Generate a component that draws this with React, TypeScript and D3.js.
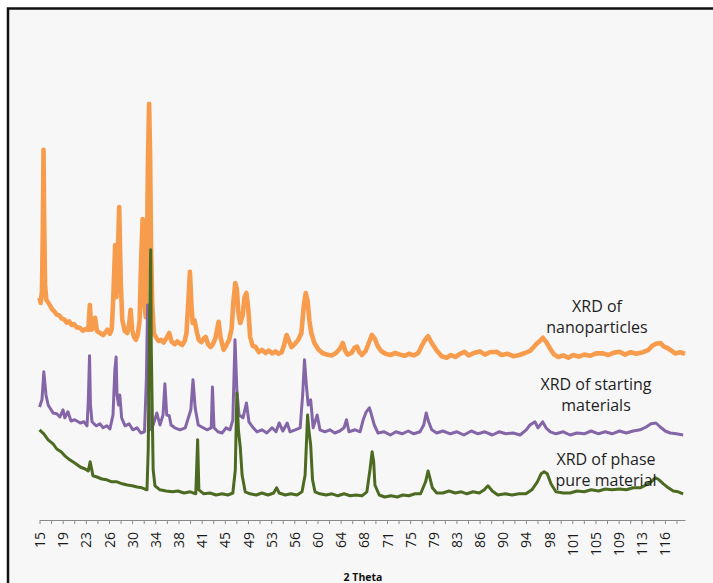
import React, { useRef, useEffect } from 'react';
import * as d3 from 'd3';

// 2 Theta (deg) vs intensity (a.u., traces already offset as in the figure)
const nanoparticles = [
  [15.0, 51.8], [15.2, 50.5], [15.4, 53.5], [15.55, 70], [15.65, 88.8], [15.75, 72], [15.9, 55], [16.1, 51.3],
  [16.6, 50.2], [17.0, 49.0], [17.4, 48.4], [17.8, 47.6], [18.2, 47.4], [18.6, 46.6], [19.0, 46.4], [19.4, 45.6],
  [19.8, 45.9], [20.2, 45.0], [20.6, 45.2], [21.0, 44.4], [21.5, 44.3], [22.0, 43.6], [22.5, 44.0], [22.9, 43.8],
  [23.15, 50.0], [23.4, 43.8], [23.8, 44.5], [24.0, 46.8], [24.3, 43.5], [24.8, 43.0], [25.3, 42.5], [25.7, 43.2],
  [26.0, 43.8], [26.4, 42.8], [26.7, 44.0], [26.95, 52], [27.25, 65], [27.45, 52], [27.65, 61], [27.9, 74.5],
  [28.15, 56], [28.4, 46.3], [28.8, 43.5], [29.2, 43.0], [29.5, 45.0], [29.75, 48.8], [30.0, 43.8], [30.3, 42.0],
  [30.6, 41.3], [30.9, 42.5], [31.2, 46], [31.45, 61], [31.7, 71.5], [31.9, 51], [32.2, 47], [32.4, 62],
  [32.55, 85], [32.74, 100.3], [32.9, 88], [33.05, 65], [33.25, 50], [33.5, 43], [33.9, 41.8], [34.3, 41.0],
  [34.7, 41.3], [35.1, 40.6], [35.5, 41.6], [36.0, 43.0], [36.4, 40.8], [36.9, 40.2], [37.3, 40.9], [37.7, 40.4],
  [38.1, 40.0], [38.5, 41.0], [38.8, 43], [39.1, 51], [39.35, 58.3], [39.6, 50], [39.8, 45.5], [40.1, 46.2],
  [40.5, 43], [40.8, 41.3], [41.2, 40.7], [41.6, 41.6], [41.9, 42.0], [42.3, 40.2], [42.7, 39.5], [43.1, 40.3],
  [43.5, 41.8], [44.0, 45.8], [44.3, 42], [44.8, 38.8], [45.2, 39.8], [45.7, 41.3], [46.1, 44], [46.4, 51],
  [46.7, 55.5], [46.95, 54], [47.2, 48], [47.5, 45.5], [47.9, 47.5], [48.2, 52], [48.5, 53], [48.8, 49],
  [49.1, 42], [49.5, 39.8], [50.0, 39.5], [50.5, 38.2], [51.0, 38.8], [51.6, 38.0], [52.1, 38.6], [52.7, 37.9],
  [53.2, 38.4], [53.7, 37.8], [54.2, 38.2], [54.6, 40], [55.0, 42.5], [55.4, 41], [55.8, 39.5], [56.3, 40.2],
  [56.9, 41.3], [57.4, 43], [57.8, 50], [58.1, 53], [58.4, 51], [58.7, 46], [59.0, 43], [59.5, 40.5],
  [60.2, 38.8], [60.8, 38.0], [61.5, 37.6], [62.3, 37.4], [63.0, 38.0], [63.6, 39], [64.1, 40.5], [64.5, 38.5],
  [64.9, 37.6], [65.5, 38.0], [66.0, 39.3], [66.4, 39.6], [66.8, 38.2], [67.2, 37.5], [67.8, 38.5], [68.3, 40.5],
  [68.8, 42.5], [69.3, 41.5], [69.8, 39.6], [70.3, 38.5], [71.0, 37.8], [71.8, 37.5], [72.6, 38.0], [73.4, 37.6],
  [74.1, 37.3], [74.8, 37.8], [75.6, 37.4], [76.3, 38.0], [76.8, 39.5], [77.3, 41.0], [77.9, 42.2], [78.5, 40.5],
  [79.3, 38.6], [80.1, 37.2], [80.9, 36.8], [81.6, 37.5], [82.3, 37.0], [83.1, 37.8], [83.8, 38.3], [84.5, 37.4],
  [85.3, 38.0], [86.3, 38.4], [87.1, 37.6], [87.9, 38.2], [89.0, 38.3], [89.8, 37.5], [90.8, 37.8], [91.7, 37.2],
  [92.7, 37.5], [93.6, 38.0], [94.5, 38.6], [95.4, 40.2], [96.0, 41.0], [96.5, 41.8], [97.1, 40.6], [97.7, 39.0],
  [98.3, 37.6], [99.0, 37.0], [99.8, 37.4], [100.6, 36.8], [101.4, 37.5], [102.3, 37.1], [103.2, 37.6], [104.1, 37.3],
  [105.1, 37.9], [106.2, 37.9], [107.1, 37.5], [108.0, 38.1], [108.9, 38.3], [109.8, 37.6], [110.7, 38.2], [111.6, 37.8],
  [112.7, 38.2], [113.6, 38.8], [114.2, 39.8], [114.8, 40.3], [115.5, 40.5], [116.1, 39.6], [116.7, 39.2], [117.3, 38.6],
  [117.9, 37.9], [118.7, 38.2], [119.5, 37.8]
];

const startingMaterials = [
  [15.0, 24.5], [15.4, 26.3], [15.7, 33.3], [16.05, 27.5], [16.4, 25], [17.2, 23], [17.8, 22.8], [18.3, 22],
  [18.8, 23.8], [19.1, 21.8], [19.6, 23.3], [20.1, 21], [20.7, 21.3], [21.6, 20.5], [22.2, 20.8], [22.7, 19.8],
  [22.9, 26], [23.1, 37.3], [23.25, 25], [23.5, 20.8], [24.15, 19.8], [24.8, 20.3], [25.3, 19.3], [25.9, 19.8],
  [26.4, 19], [26.9, 22.5], [27.2, 33.8], [27.4, 37], [27.55, 27.5], [27.8, 25], [28.0, 27.5], [28.3, 21.8],
  [28.85, 19.8], [29.5, 20.3], [30.1, 18.8], [30.8, 19.3], [31.4, 18], [32.0, 18.3], [32.3, 31.3], [32.5, 50],
  [32.65, 31], [32.9, 18.8], [33.4, 20], [34.0, 23], [34.5, 20], [35.0, 22.5], [35.3, 30.3], [35.6, 22.5],
  [36.0, 22.3], [36.3, 20], [36.9, 19.3], [37.75, 18.8], [38.6, 19.3], [39.1, 21.8], [39.5, 23.8], [39.85, 31.3],
  [40.2, 24.3], [40.7, 20], [41.5, 19.3], [42.1, 18.8], [42.8, 19.3], [43.0, 29.5], [43.25, 19.3], [43.9, 18.3],
  [44.55, 18], [45.2, 19.3], [45.85, 18.8], [46.3, 21.3], [46.65, 41.3], [46.95, 28.8], [47.3, 22.5], [47.95, 21.8],
  [48.5, 25.5], [48.9, 20.8], [49.6, 19.3], [50.2, 18.3], [51.0, 18.8], [51.8, 18], [52.65, 19.3], [53.3, 18.3],
  [53.8, 20.5], [54.4, 18.5], [55.1, 20.5], [55.55, 18.3], [56.4, 18.8], [57.2, 19.3], [57.6, 27.5], [57.9, 36.3],
  [58.2, 30], [58.5, 25], [58.9, 26.3], [59.3, 19.3], [59.95, 22.5], [60.4, 18.8], [61.2, 18.3], [62.0, 18.8],
  [62.8, 18], [63.6, 18.5], [64.3, 19.3], [64.7, 21.3], [65.1, 18.3], [66.1, 18.8], [66.9, 18.3], [67.4, 21.3],
  [67.9, 23.3], [68.4, 24.3], [68.7, 22.8], [69.2, 20], [69.8, 18], [70.8, 18.3], [71.8, 17.5], [72.7, 18.3],
  [73.7, 17.8], [74.7, 18.5], [75.6, 17.8], [76.6, 18.3], [77.2, 20], [77.6, 23], [78.0, 20.8], [78.5, 18.8],
  [79.3, 18], [80.3, 18.5], [81.5, 17.8], [82.6, 18.3], [83.7, 17.5], [84.9, 18.5], [86.0, 17.8], [87.1, 18.3],
  [88.3, 17.5], [89.4, 18.3], [90.5, 17.8], [91.7, 18], [92.8, 17.5], [93.8, 18.8], [94.4, 20], [95.2, 20.8],
  [95.7, 19.3], [96.45, 20.8], [97.0, 19.3], [97.7, 18.3], [98.6, 17.8], [99.8, 18.3], [100.9, 17.5], [102.0, 18],
  [103.2, 17.8], [104.3, 18.5], [105.5, 17.8], [106.6, 18.3], [107.7, 17.8], [108.9, 18.5], [110.0, 18], [111.1, 18.5],
  [112.25, 18.8], [113.2, 19.5], [114.0, 20.3], [114.8, 20.5], [115.5, 19.5], [116.3, 18.5], [117.1, 18], [118.1, 17.8],
  [119.2, 17.5]
];

const phasePure = [
  [15.0, 18.8], [15.7, 17.8], [16.4, 16.3], [17.2, 15.3], [17.8, 14], [18.5, 13.3], [19.1, 12.3], [19.9, 11.3],
  [20.7, 10.5], [21.6, 9.5], [22.4, 9], [22.9, 8.5], [23.2, 10.8], [23.4, 9.3], [23.65, 7.3], [24.3, 7],
  [25.1, 6.5], [25.9, 6.3], [26.7, 5.8], [27.55, 5.8], [28.4, 5.3], [29.2, 5], [30.0, 4.8], [30.8, 4.5],
  [31.6, 4.3], [32.4, 3.8], [32.6, 13.8], [32.8, 43.8], [33.0, 63.8], [33.1, 38.8], [33.4, 8.8], [33.7, 4.8],
  [34.5, 3.8], [35.5, 3.5], [36.5, 3.3], [37.4, 3.5], [38.4, 3], [39.4, 3.3], [40.3, 2.8], [40.6, 16.3],
  [40.8, 3.8], [41.6, 2.8], [42.6, 3], [43.6, 2.5], [44.55, 2.8], [45.5, 2.5], [46.3, 3], [46.7, 8.8],
  [46.95, 28], [47.2, 18.8], [47.5, 14.5], [47.8, 7.5], [48.3, 3.3], [49.1, 2.8], [50.1, 2.5], [51.0, 3],
  [52.0, 2.5], [52.9, 3], [53.4, 4.3], [53.8, 3], [54.8, 2.5], [55.7, 2.8], [56.7, 2.5], [57.5, 3.3],
  [58.0, 7.5], [58.4, 22.5], [58.6, 18.8], [58.9, 15], [59.2, 6.3], [59.6, 3.3], [60.4, 2.8], [61.4, 2.5],
  [62.35, 2.8], [63.3, 2.3], [64.3, 2.8], [65.3, 2.3], [66.25, 2.5], [67.2, 2.3], [68.0, 3.3], [68.5, 8.8],
  [68.85, 13.3], [69.1, 10.8], [69.3, 5], [70.0, 2.5], [70.9, 2], [71.9, 2.3], [72.9, 2], [73.85, 2.5],
  [74.8, 2.3], [75.8, 2.8], [76.7, 2.8], [77.5, 5.8], [77.9, 8.5], [78.2, 6.8], [78.6, 4.3], [79.3, 3],
  [80.3, 3], [81.3, 3.5], [82.3, 3], [83.3, 3.3], [84.2, 2.8], [85.2, 3.3], [86.2, 3], [87.0, 3.8],
  [87.6, 4.8], [88.3, 3.5], [89.2, 2.5], [90.4, 2.8], [91.5, 2.5], [92.6, 2.8], [93.75, 2.8], [94.7, 3.8],
  [95.6, 5.8], [96.2, 7.8], [96.7, 8.3], [97.2, 7.8], [97.8, 5.3], [98.6, 3.3], [99.8, 3], [100.9, 3],
  [102.0, 3.5], [103.2, 3.3], [104.3, 3.8], [105.5, 3.5], [106.6, 4], [107.7, 3.8], [108.9, 4], [110.0, 3.8],
  [111.1, 4.3], [112.25, 4.3], [113.2, 5], [114.0, 5.8], [114.7, 6.8], [115.3, 6.3], [116.0, 5.3], [116.8, 4.3],
  [117.6, 3.5], [118.4, 3.3], [119.2, 2.8]
];

const tickLabels = ['15', '19', '23', '26', '30', '34', '38', '41', '45', '49', '53', '56', '60', '64',
  '68', '71', '75', '79', '83', '86', '90', '94', '98', '101', '105', '109', '113', '116'];
const tickStart = 15;
const tickStep = 3.75;

const seriesList = [
  { name: 'nanoparticles', data: nanoparticles, color: '#f79c4c', width: 4.6 },
  { name: 'starting', data: startingMaterials, color: '#8466a8', width: 3 },
  { name: 'phase pure', data: phasePure, color: '#4c6a21', width: 3 }
];

const annotations = [
  { lines: ['XRD of', 'nanoparticles'], x: 597, y: 312 },
  { lines: ['XRD of starting', 'materials'], x: 596, y: 390 },
  { lines: ['XRD of phase', 'pure material'], x: 606, y: 465 }
];

function XrdChart() {
  const svgRef = useRef(null);

  useEffect(() => {
    const svg = d3.select(svgRef.current);
    svg.selectAll('*').remove();

    const width = 713;
    const height = 583;
    const axisY = 520;

    // paper background + frame
    svg.append('rect').attr('width', width).attr('height', height).attr('fill', '#ffffff');
    svg.append('rect')
      .attr('x', 8).attr('y', 8.5)
      .attr('width', width + 10).attr('height', height + 10)
      .attr('fill', '#f7f7f7')
      .attr('stroke', '#111')
      .attr('stroke-width', 2.5);

    const x = d3.scaleLinear().domain([15, 119.5]).range([39.5, 685]);
    const y = d3.scaleLinear().domain([0, 100]).range([505, 105]);

    const line = d3.line()
      .x(d => x(d[0]))
      .y(d => y(d[1]));

    seriesList.forEach(s => {
      svg.append('path')
        .datum(s.data)
        .attr('fill', 'none')
        .attr('stroke', s.color)
        .attr('stroke-width', s.width)
        .attr('stroke-linejoin', 'round')
        .attr('d', line);
    });

    // category-style axis: a tick every half label step
    const tickVals = d3.range(0, tickLabels.length * 2).map(k => tickStart + k * tickStep / 2);
    const xAxis = d3.axisBottom(x)
      .tickValues(tickVals)
      .tickSize(4)
      .tickSizeOuter(0)
      .tickFormat((d, i) => (i % 2 === 0 ? tickLabels[i / 2] : ''));

    const gx = svg.append('g')
      .attr('transform', `translate(0,${axisY})`)
      .call(xAxis);
    gx.select('.domain').attr('stroke', '#8a8a8a');
    gx.selectAll('.tick line').attr('stroke', '#8a8a8a');
    gx.selectAll('.tick text')
      .attr('transform', 'rotate(-90)')
      .attr('x', -12)
      .attr('y', 0)
      .attr('dy', '0.36em')
      .attr('text-anchor', 'end')
      .attr('font-family', 'Open Sans')
      .attr('font-size', 14)
      .attr('fill', '#1a1a1a');

    svg.append('text')
      .attr('x', 363)
      .attr('y', 581)
      .attr('text-anchor', 'middle')
      .attr('font-family', 'Open Sans')
      .attr('font-weight', 'bold')
      .attr('font-size', 10.5)
      .attr('fill', '#111')
      .text('2 Theta');

    // trace labels
    annotations.forEach(a => {
      const t = svg.append('text')
        .attr('text-anchor', 'middle')
        .attr('font-family', 'Open Sans')
        .attr('font-size', 16)
        .attr('fill', '#1e1e1e');
      a.lines.forEach((ln, i) => {
        t.append('tspan').attr('x', a.x).attr('y', a.y + i * 21).text(ln);
      });
    });
  }, []);

  return (
    <svg
      ref={svgRef}
      width={713}
      height={583}
      style={{ position: 'absolute', left: 0, top: 0 }}
    />
  );
}

export default function App() {
  return <XrdChart />;
}
